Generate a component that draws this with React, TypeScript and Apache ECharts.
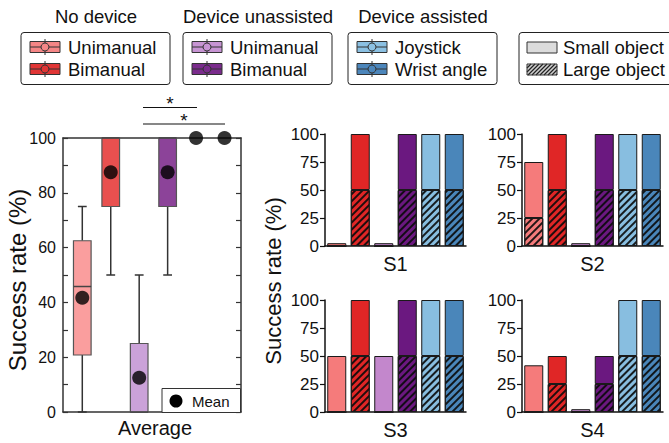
import React, { useEffect, useRef } from 'react';
import * as echarts from 'echarts';

// ---------- data ----------
const groupTitles = ['No device', 'Device unassisted', 'Device assisted'];
const groupItems = [
  ['Unimanual', 'Bimanual'],
  ['Unimanual', 'Bimanual'],
  ['Joystick', 'Wrist angle'],
];
const objectLabels = ['Small object', 'Large object'];
const conditions = ['ND-Uni', 'ND-Bi', 'DU-Uni', 'DU-Bi', 'Joystick', 'Wrist angle'];

// Average panel (box plot)
const boxMin = [0, 50, 0, 50, 100, 100];
const boxQ1 = [20.8, 75, 0, 75, 100, 100];
const boxMedian = [45.8, 100, 0, 100, 100, 100];
const boxQ3 = [62.5, 100, 25, 100, 100, 100];
const boxMax = [75, 100, 50, 100, 100, 100];
const boxMean = [41.7, 87.5, 12.5, 87.5, 100, 100];
const avgLabel = 'Average';
const meanLabel = 'Mean';

// Per-subject panels (stacked: large object bottom, small object top)
const subjects = ['S1', 'S2', 'S3', 'S4'];
const largeObj = [
  [0, 50, 0, 50, 50, 50],
  [25, 50, 0, 50, 50, 50],
  [0, 50, 0, 50, 50, 50],
  [0, 25, 0, 25, 50, 50],
];
const smallObj = [
  [2.5, 50, 2.5, 50, 50, 50],
  [50, 50, 2.5, 50, 50, 50],
  [50, 50, 50, 50, 50, 50],
  [41.7, 25, 2.5, 25, 50, 50],
];
const yTitle = 'Success rate (%)';

// ---------- styles ----------
const FONT = 'Liberation Sans, Arial, Helvetica, sans-serif';
const barColors = ['#F57B7B', '#E02626', '#C387CC', '#6B1880', '#88BEE0', '#4A86BA'];
const boxColors = ['#FA9E9E', '#E9504F', '#CBA2D9', '#8C4399', '#9CC8E6', '#5E93C3'];
const legendColors = ['#F58686', '#E03535', '#C794D3', '#7A2C8C', '#8BC0E2', '#4C86BB'];
const INK = '#222';

const subGrids = [
  { left: 325, top: 134 },
  { left: 522, top: 134 },
  { left: 325, top: 300 },
  { left: 522, top: 300 },
];

function buildLegend(): any[] {
  const els: any[] = [];
  const boxes = [21, 183, 348];
  boxes.forEach((bx, g) => {
    els.push({
      type: 'text', x: bx + 75, y: 16,
      style: { text: groupTitles[g], fontSize: 18.5, fontFamily: FONT, fill: '#111', textAlign: 'center', textVerticalAlign: 'middle' },
    });
    els.push({
      type: 'rect', shape: { x: bx, y: 32.5, width: 149, height: 52, r: 3 },
      style: { fill: '#fff', stroke: INK, lineWidth: 1 },
    });
    [47, 69].forEach((cy, r) => {
      const col = legendColors[g * 2 + r];
      const ix = bx + 9;
      els.push({ type: 'line', shape: { x1: ix + 15, y1: cy - 8, x2: ix + 15, y2: cy + 8 }, style: { stroke: '#333', lineWidth: 1 } });
      els.push({ type: 'rect', shape: { x: ix, y: cy - 5.5, width: 30, height: 11 }, style: { fill: col, stroke: '#333', lineWidth: 1 } });
      els.push({ type: 'line', shape: { x1: ix, y1: cy, x2: ix + 30, y2: cy }, style: { stroke: '#333', lineWidth: 1 } });
      els.push({ type: 'line', shape: { x1: ix + 15, y1: cy - 5.5, x2: ix + 15, y2: cy + 5.5 }, style: { stroke: '#333', lineWidth: 1 } });
      els.push({ type: 'circle', shape: { cx: ix + 15, cy, r: 4 }, style: { fill: col, stroke: '#333', lineWidth: 1 } });
      els.push({
        type: 'text', x: bx + 47, y: cy,
        style: { text: groupItems[g][r], fontSize: 18.5, fontFamily: FONT, fill: '#111', textVerticalAlign: 'middle' },
      });
    });
  });
  // object legend
  const ox = 519;
  els.push({ type: 'rect', shape: { x: ox, y: 32.5, width: 170, height: 52, r: 3 }, style: { fill: '#fff', stroke: INK, lineWidth: 1 } });
  const ix = 527;
  els.push({ type: 'rect', shape: { x: ix, y: 42, width: 30, height: 11 }, style: { fill: '#DCDCDC', stroke: '#333', lineWidth: 1 } });
  const hy = 64, hh = 11, hw = 30;
  els.push({ type: 'rect', shape: { x: ix, y: hy, width: hw, height: hh }, style: { fill: '#D0D0D0', stroke: 'none' } });
  for (let x = ix - hh; x < ix + hw; x += 4) {
    let xs = x, ys = hy + hh, xe = x + hh, ye = hy;
    if (xs < ix) { const d = ix - xs; xs = ix; ys -= d; }
    if (xe > ix + hw) { const d = xe - (ix + hw); xe = ix + hw; ye += d; }
    if (xe > xs) els.push({ type: 'line', shape: { x1: xs, y1: ys, x2: xe, y2: ye }, style: { stroke: '#222', lineWidth: 1.2 } });
  }
  els.push({ type: 'rect', shape: { x: ix, y: hy, width: hw, height: hh }, style: { fill: 'none', stroke: '#333', lineWidth: 1 } });
  [47, 69].forEach((cy, r) => {
    els.push({
      type: 'text', x: 563, y: cy,
      style: { text: objectLabels[r], fontSize: 18.5, fontFamily: FONT, fill: '#111', textVerticalAlign: 'middle' },
    });
  });
  return els;
}

function buildAnnotations(): any[] {
  const els: any[] = [];
  // significance
  els.push({ type: 'line', shape: { x1: 143, y1: 107.5, x2: 197, y2: 107.5 }, style: { stroke: '#111', lineWidth: 1.2 } });
  els.push({ type: 'text', x: 170, y: 103, style: { text: '*', fontSize: 19, fontFamily: FONT, fill: '#111', textAlign: 'center', textVerticalAlign: 'middle' } });
  els.push({ type: 'line', shape: { x1: 143, y1: 124, x2: 225, y2: 124 }, style: { stroke: '#111', lineWidth: 1.2 } });
  els.push({ type: 'text', x: 184, y: 120, style: { text: '*', fontSize: 19, fontFamily: FONT, fill: '#111', textAlign: 'center', textVerticalAlign: 'middle' } });
  // mean legend
  els.push({ type: 'rect', z: 10, shape: { x: 162, y: 388.5, width: 78.5, height: 24 }, style: { fill: '#fff', stroke: '#333', lineWidth: 1 } });
  els.push({ type: 'circle', z: 11, shape: { cx: 176, cy: 401, r: 6.5 }, style: { fill: '#000' } });
  els.push({ type: 'text', z: 11, x: 192, y: 401, style: { text: meanLabel, fontSize: 15, fontFamily: FONT, fill: '#111', textVerticalAlign: 'middle' } });
  // titles
  els.push({ type: 'text', x: 155, y: 428, style: { text: avgLabel, fontSize: 20, fontFamily: FONT, fill: '#111', textAlign: 'center', textVerticalAlign: 'middle' } });
  els.push({ type: 'text', x: 17, y: 280, rotation: Math.PI / 2, style: { text: yTitle, fontSize: 24, fontFamily: FONT, fill: '#111', textAlign: 'center', textVerticalAlign: 'middle' } });
  els.push({ type: 'text', x: 273, y: 281, rotation: Math.PI / 2, style: { text: yTitle, fontSize: 22, fontFamily: FONT, fill: '#111', textAlign: 'center', textVerticalAlign: 'middle' } });
  return els;
}

export default function App() {
  const ref = useRef<HTMLDivElement>(null);
  useEffect(() => {
    if (!ref.current) return;
    const chart = echarts.init(ref.current, undefined, { renderer: 'svg' });

    const grids: any[] = [
      { left: 63, top: 138, width: 178, height: 274 },
      ...subGrids.map((g) => ({ left: g.left, top: g.top, width: 141, height: 112 })),
    ];

    const frameLine = { show: true, onZero: false, lineStyle: { color: '#333', width: 1.5 } };
    const xAxes: any[] = [
      {
        gridIndex: 0, type: 'value', min: -0.678, max: 5.579, position: 'bottom',
        axisLine: frameLine, axisTick: { show: false }, axisLabel: { show: false }, splitLine: { show: false },
      },
      {
        gridIndex: 0, type: 'value', min: -0.678, max: 5.579, position: 'top',
        axisLine: frameLine, axisTick: { show: false }, axisLabel: { show: false }, splitLine: { show: false },
      },
      ...subjects.map((s, i) => ({
        gridIndex: i + 1, type: 'category', data: conditions,
        axisLine: { show: true, lineStyle: { color: '#111', width: 1.5 } },
        axisTick: { show: false }, axisLabel: { show: false },
        name: s, nameLocation: 'middle', nameGap: 8,
        nameTextStyle: { fontSize: 20, fontFamily: FONT, color: '#111' },
      })),
    ];

    const tickStyle = { color: '#333', width: 1.2 };
    const yAxes: any[] = [
      {
        gridIndex: 0, type: 'value', min: 0, max: 100, interval: 20, position: 'left',
        axisLine: frameLine,
        axisTick: { show: true, inside: true, length: 5, lineStyle: tickStyle },
        minorTick: { show: true, splitNumber: 2, length: 5, lineStyle: tickStyle },
        axisLabel: { fontSize: 16, fontFamily: FONT, color: '#111', margin: 7 },
        splitLine: { show: false },
      },
      {
        gridIndex: 0, type: 'value', min: 0, max: 100, interval: 20, position: 'right',
        axisLine: frameLine,
        axisTick: { show: true, inside: true, length: 5, lineStyle: tickStyle },
        minorTick: { show: true, splitNumber: 2, length: 5, lineStyle: tickStyle },
        axisLabel: { show: false },
        splitLine: { show: false },
      },
      ...subjects.map((_, i) => ({
        gridIndex: i + 1, type: 'value', min: 0, max: 100, interval: 25,
        axisLine: { show: true, lineStyle: { color: '#111', width: 1.5 } },
        axisTick: { show: true, length: 5, lineStyle: { color: '#111', width: 1.2 } },
        axisLabel: { fontSize: 17, fontFamily: FONT, color: '#111', margin: 6 },
        splitLine: { show: false },
      })),
    ];

    const boxData = conditions.map((_, i) => ({
      value: [i, boxMin[i], boxQ1[i], boxMedian[i], boxQ3[i], boxMax[i]],
      itemStyle: { color: boxColors[i] },
    }));

    const series: any[] = [
      {
        type: 'custom', xAxisIndex: 0, yAxisIndex: 0, z: 2,
        data: boxData,
        renderItem: (params: any, api: any) => {
          const x = api.value(0);
          const pMin = api.coord([x, api.value(1)]);
          const pQ1 = api.coord([x, api.value(2)]);
          const pMed = api.coord([x, api.value(3)]);
          const pQ3 = api.coord([x, api.value(4)]);
          const pMax = api.coord([x, api.value(5)]);
          const w = api.size([0.62, 0])[0];
          const cap = w * 0.25;
          const cx = pMed[0];
          const color = api.visual('color');
          const lineStyle = { stroke: '#333', lineWidth: 1.5 };
          const children: any[] = [];
          if (pMax[1] < pQ3[1] - 0.5) {
            children.push({ type: 'line', shape: { x1: cx, y1: pQ3[1], x2: cx, y2: pMax[1] }, style: lineStyle });
            children.push({ type: 'line', shape: { x1: cx - cap, y1: pMax[1], x2: cx + cap, y2: pMax[1] }, style: lineStyle });
          }
          if (pMin[1] > pQ1[1] + 0.5) {
            children.push({ type: 'line', shape: { x1: cx, y1: pQ1[1], x2: cx, y2: pMin[1] }, style: lineStyle });
            children.push({ type: 'line', shape: { x1: cx - cap, y1: pMin[1], x2: cx + cap, y2: pMin[1] }, style: lineStyle });
          }
          if (pQ1[1] - pQ3[1] > 0.5) {
            children.push({
              type: 'rect', shape: { x: cx - w / 2, y: pQ3[1], width: w, height: pQ1[1] - pQ3[1] },
              style: { fill: color, stroke: '#555', lineWidth: 1.2 },
            });
            children.push({ type: 'line', shape: { x1: cx - w / 2, y1: pMed[1], x2: cx + w / 2, y2: pMed[1] }, style: { stroke: '#444', lineWidth: 1.5 } });
          }
          return { type: 'group', children };
        },
      },
      {
        type: 'scatter', xAxisIndex: 0, yAxisIndex: 0, z: 5, clip: false,
        symbol: 'circle', symbolSize: 14,
        itemStyle: { color: '#000' },
        data: boxMean.map((m, i) => [i, m]),
      },
    ];

    subjects.forEach((s, k) => {
      series.push({
        name: objectLabels[1], type: 'bar', stack: 'st' + k,
        xAxisIndex: k + 2, yAxisIndex: k + 2, barWidth: 19,
        itemStyle: {
          borderColor: '#1a1a1a', borderWidth: 1,
          decal: { symbol: 'rect', symbolSize: 1, dashArrayX: [1, 0], dashArrayY: [1.3, 2.2], rotation: -Math.PI / 4, color: 'rgba(10,10,10,0.9)' },
        },
        data: largeObj[k].map((v, i) => ({ value: v, itemStyle: { color: barColors[i] } })),
      });
      series.push({
        name: objectLabels[0], type: 'bar', stack: 'st' + k,
        xAxisIndex: k + 2, yAxisIndex: k + 2, barWidth: 19,
        itemStyle: { borderColor: '#1a1a1a', borderWidth: 1 },
        data: smallObj[k].map((v, i) => ({ value: v, itemStyle: { color: barColors[i] } })),
      });
    });

    chart.setOption({
      animation: false,
      backgroundColor: '#fff',
      textStyle: { fontFamily: FONT },
      grid: grids,
      xAxis: xAxes,
      yAxis: yAxes,
      series,
      graphic: { elements: [...buildLegend(), ...buildAnnotations()] },
    });
    return () => chart.dispose();
  }, []);
  return <div ref={ref} style={{ position: 'fixed', left: 0, top: 0, width: 669, height: 443 }} />;
}
